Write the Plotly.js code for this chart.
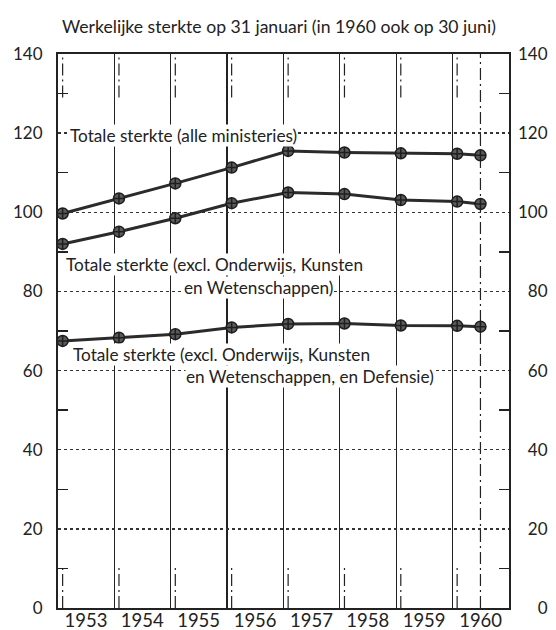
<!DOCTYPE html>
<html>
<head>
<meta charset="utf-8">
<script src="https://cdn.plot.ly/plotly-3.0.1.min.js"></script>
<style>html,body{margin:0;padding:0;background:#fff;}#chart{width:556px;height:630px;}</style>
</head>
<body>
<div id="chart"></div>
<script>
// Measurement dates (31 January each year; 1960 also 30 June)
const dates = ['1953-01-31','1954-01-31','1955-01-31','1956-01-31','1957-01-31','1958-01-31','1959-01-31','1960-01-31','1960-06-30'];
const totalAll = [99.7, 103.5, 107.3, 111.3, 115.5, 115.1, 114.9, 114.8, 114.4];
const totalExclOKW = [92.0, 95.1, 98.5, 102.3, 105.0, 104.6, 103.1, 102.7, 102.1];
const totalExclOKWDef = [67.5, 68.3, 69.2, 70.9, 71.8, 71.9, 71.4, 71.3, 71.1];
const years = ['1953','1954','1955','1956','1957','1958','1959','1960'];
const yTicks = [0,20,40,60,80,100,120,140];
const titleText = 'Werkelijke sterkte op 31 januari (in 1960 ook op 30 juni)';
const labelAll = 'Totale sterkte (alle ministeries)';
const labelExcl1 = 'Totale sterkte (excl. Onderwijs, Kunsten';
const labelExcl2 = 'en Wetenschappen)';
const labelDef1 = 'Totale sterkte (excl. Onderwijs, Kunsten';
const labelDef2 = 'en Wetenschappen, en Defensie)';

const FONT = 'Lato, "Open Sans", sans-serif';
const INK = '#222';

function series(y){
  return {x: dates, y: y, type:'scatter', mode:'lines+markers', showlegend:false, hoverinfo:'x+y',
    line:{color:'#2b2b2b', width:3},
    marker:{symbol:'circle-cross', size:11, color:'#5a5a5a', line:{color:'#1e1e1e', width:1.5}}};
}
const traces = [series(totalAll), series(totalExclOKW), series(totalExclOKWDef),
  {x: dates, y: totalExclOKWDef, yaxis:'y2', mode:'markers', marker:{opacity:0}, hoverinfo:'skip', showlegend:false}];

// dash-dot reference lines at the measurement dates
const shapes = [];
const dd = '12px,4px,2px,4px';
dates.forEach((d,i)=>{
  if(i === dates.length-1){
    shapes.push({type:'line', xref:'x', yref:'y', x0:d, x1:d, y0:0, y1:140, line:{color:INK, width:1.2, dash:dd}, layer:'below'});
  } else {
    shapes.push({type:'line', xref:'x', yref:'y', x0:d, x1:d, y0:129, y1:140, line:{color:INK, width:1.2, dash:dd}, layer:'below'});
    shapes.push({type:'line', xref:'x', yref:'y', x0:d, x1:d, y0:0, y1:11, line:{color:INK, width:1.2, dash:dd}, layer:'below'});
  }
});

function lab(text, x, y){
  return {text:text, xref:'paper', yref:'y', x:x, y:y, xanchor:'left', yanchor:'middle', showarrow:false,
    bgcolor:'#fff', borderpad:0, font:{family:FONT, size:17.2, color:INK}};
}
const annotations = [
  lab(labelAll, 0.024, 119.3),
  lab(labelExcl1, 0.016, 86.8),
  lab(labelExcl2, 0.277, 80.9),
  lab(labelDef1, 0.030, 64.1),
  lab(labelDef2, 0.282, 58.5)
];

const layout = {
  width:556, height:630,
  margin:{l:58, r:47, t:54, b:22, autoexpand:false},
  paper_bgcolor:'#fff', plot_bgcolor:'#fff',
  font:{family:FONT, color:INK, size:16},
  title:{text:titleText, font:{family:FONT, size:17.6, color:INK}, xref:'paper', x:0.49, xanchor:'center', yref:'container', y:0.957, yanchor:'middle'},
  xaxis:{type:'date', range:['1953-01-01','1961-01-01'], tickmode:'array',
    tickvals: years.map(y=>y+'-07-01'), ticktext: years, ticks:'', showgrid:false, zeroline:false,
    showline:true, mirror:true, linecolor:INK, linewidth:2, ticklabelstandoff:-5,
    tickfont:{family:FONT, size:18.5, color:INK},
    minor:{tickmode:'linear', tick0:'1953-01-01', dtick:'M12', showgrid:true, gridcolor:INK, gridwidth:1.2, ticks:''},
    fixedrange:true},
  yaxis:{range:[0,140], tickmode:'array', tickvals:yTicks, ticktext:yTicks.map(String), ticks:'',
    showgrid:true, griddash:'dot', gridcolor:'#333', gridwidth:1.3, zeroline:false,
    showline:true, mirror:true, linecolor:INK, linewidth:2, ticklabelstandoff:10,
    tickfont:{family:FONT, size:17, color:INK},
    minor:{tickmode:'linear', tick0:10, dtick:20, ticks:'inside', ticklen:10, tickwidth:1.3, tickcolor:INK, showgrid:false},
    fixedrange:true},
  yaxis2:{overlaying:'y', side:'right', range:[0,140], tickmode:'array', tickvals:yTicks,
    ticktext:yTicks.map(v=>{const s=String(v); return '\u2007'.repeat(3-s.length)+s;}), ticks:'',
    showgrid:false, zeroline:false, showline:false, ticklabelstandoff:8,
    tickfont:{family:FONT, size:17, color:INK},
    minor:{tickmode:'linear', tick0:10, dtick:20, ticks:'inside', ticklen:10, tickwidth:1.3, tickcolor:INK, showgrid:false},
    fixedrange:true},
  shapes:shapes,
  annotations:annotations,
  showlegend:false
};
Plotly.newPlot('chart', traces, layout, {staticPlot:true, displayModeBar:false});
</script>
</body>
</html>
